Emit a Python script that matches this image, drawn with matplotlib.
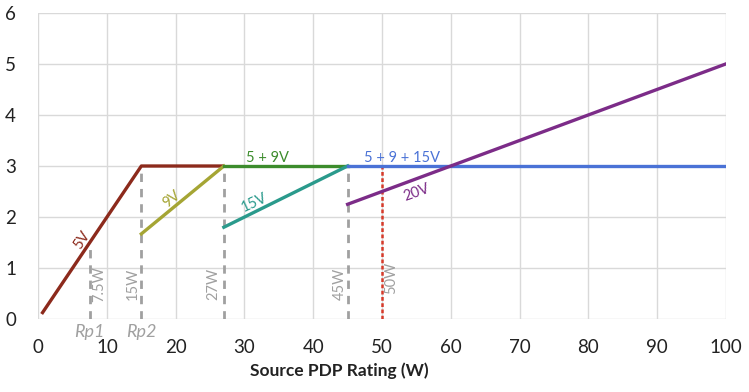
import matplotlib
matplotlib.use("Agg")
import matplotlib.pyplot as plt

plt.rcParams['font.family'] = ['Lato', 'DejaVu Sans']

# Data
v5_x = [0.5, 15, 27]
v5_y = [0.1, 3, 3]
v9_x = [15, 27]
v9_y = [1.67, 3]
v59_x = [27, 45]
v59_y = [3, 3]
v15_x = [27, 45]
v15_y = [1.8, 3]
v5915_x = [45, 100]
v5915_y = [3, 3]
v20_x = [45, 100]
v20_y = [2.25, 5]

marker_w = [7.5, 15, 27, 45]
marker_top = [1.45, 3, 3, 3]
marker_lbl = ["7.5W", "15W", "27W", "45W"]
limit_w = 50
limit_top = 3

xticks = [0, 10, 20, 30, 40, 50, 60, 70, 80, 90, 100]
yticks = [0, 1, 2, 3, 4, 5, 6]

fig = plt.figure(figsize=(7.49, 3.92), dpi=100)
ax = fig.add_axes([0.051, 0.186, 0.918, 0.781])

ax.set_xlim(0, 100)
ax.set_ylim(0, 6)
ax.set_xticks(xticks)
ax.set_yticks(yticks)
ax.grid(True, color='#d9d9d9', lw=1)
ax.set_axisbelow(True)
for s in ax.spines.values():
    s.set_visible(False)
ax.tick_params(length=0, labelsize=13.5, colors='#222222')
ax.tick_params(axis='x', pad=14)
ax.tick_params(axis='y', pad=16)

grey = '#a0a0a0'
for x, t in zip(marker_w, marker_top):
    ax.plot([x, x], [0, t], color=grey, lw=2, ls=(0, (3, 2.5)), zorder=2)
ax.plot([limit_w, limit_w], [0, limit_top], color='#d63a2a', lw=1.8, ls=(0, (1.5, 1)), zorder=2)

lw = 2.4
ax.plot(v5_x, v5_y, color='#8c2a1c', lw=lw, zorder=3, solid_capstyle='butt')
ax.plot(v9_x, v9_y, color='#a5a534', lw=lw, zorder=3)
ax.plot(v59_x, v59_y, color='#3c8c2c', lw=lw, zorder=3)
ax.plot(v15_x, v15_y, color='#2a9a8c', lw=lw, zorder=3)
ax.plot(v5915_x, v5915_y, color='#4a72d6', lw=lw, zorder=3)
ax.plot(v20_x, v20_y, color='#7c2c88', lw=lw, zorder=3)

fs = 10.5
ax.text(6.4, 1.54, "5V", color='#8c2a1c', fontsize=fs, rotation=56, ha='center', va='center')
ax.text(19.5, 2.36, "9V", color='#a5a534', fontsize=fs, rotation=39, ha='center', va='center')
ax.text(31.5, 2.28, "15V", color='#2a9a8c', fontsize=fs, rotation=25, ha='center', va='center')
ax.text(33.4, 3.16, "5 + 9V", color='#3c8c2c', fontsize=fs, ha='center', va='center')
ax.text(52.9, 3.16, "5 + 9 + 15V", color='#4a72d6', fontsize=fs, ha='center', va='center')
ax.text(55.1, 2.48, "20V", color='#7c2c88', fontsize=fs, rotation=20, ha='center', va='center')

lbl_x = [8.9, 13.7, 25.5, 43.9]
for x, t in zip(lbl_x, marker_lbl):
    ax.text(x, 0.69, t, color=grey, fontsize=fs, rotation=90, ha='center', va='center')
ax.text(51.3, 0.8, "50W", color=grey, fontsize=fs, rotation=90, ha='center', va='center')

ax.text(7.5, -0.26, "Rp1", color=grey, fontsize=13, style='italic', ha='center', va='center', clip_on=False)
ax.text(15, -0.26, "Rp2", color=grey, fontsize=13, style='italic', ha='center', va='center', clip_on=False)

fig.text(339 / 749, 1 - 371 / 392, "Source PDP Rating (W)", fontsize=12.5, fontweight='bold',
         ha='center', va='center', color='#222222')

fig.savefig("out.png", dpi=100)
